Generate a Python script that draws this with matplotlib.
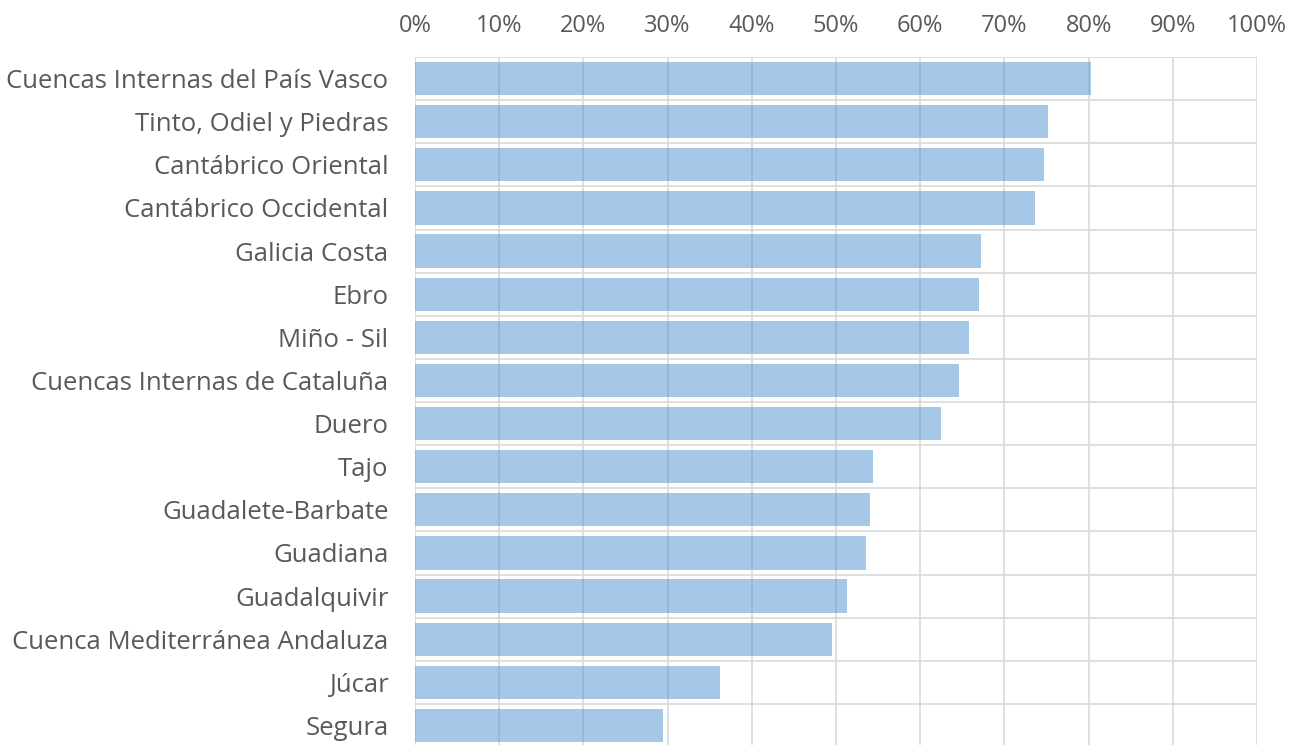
import matplotlib.pyplot as plt
from matplotlib.ticker import MultipleLocator, PercentFormatter

plt.rcParams['font.family'] = ['Open Sans', 'DejaVu Sans']

cuencas = ["Cuencas Internas del País Vasco", "Tinto, Odiel y Piedras", "Cantábrico Oriental",
           "Cantábrico Occidental", "Galicia Costa", "Ebro", "Miño - Sil",
           "Cuencas Internas de Cataluña", "Duero", "Tajo", "Guadalete-Barbate", "Guadiana",
           "Guadalquivir", "Cuenca Mediterránea Andaluza", "Júcar", "Segura"]
valores = [80.3, 75.2, 74.7, 73.6, 67.2, 67.0, 65.8, 64.6, 62.5, 54.4, 54.0, 53.6,
           51.3, 49.5, 36.2, 29.5]

fig = plt.figure(figsize=(13.01, 7.45), dpi=100)
ax = fig.add_axes([415/1301, -2/745, 842/1301, 690/745])

y = list(range(len(cuencas)))
ax.barh(y, valores, height=0.77, color='#5b9bd5', alpha=0.55, zorder=3)

ax.set_xlim(0, 100)
ax.set_ylim(len(cuencas) - 0.5, -0.5)
ax.xaxis.set_major_locator(MultipleLocator(10))
ax.xaxis.set_major_formatter(PercentFormatter(decimals=0))
ax.xaxis.tick_top()
ax.set_yticks(y)
ax.set_yticklabels(cuencas, fontsize=18.5)
ax.set_yticks([i + 0.5 for i in range(-1, len(cuencas))], minor=True)

ax.grid(axis='x', which='major', color='#d9d9d9', linewidth=1.2, zorder=1)
ax.grid(axis='y', which='minor', color='#d9d9d9', linewidth=1.2, zorder=1)
ax.tick_params(which='both', length=0, colors='#595959')
ax.tick_params(axis='x', pad=14, labelsize=17)
ax.tick_params(axis='y', pad=19)
for s in ax.spines.values():
    s.set_visible(False)
ax.set_axisbelow(True)

fig.savefig('out.png', dpi=100)
